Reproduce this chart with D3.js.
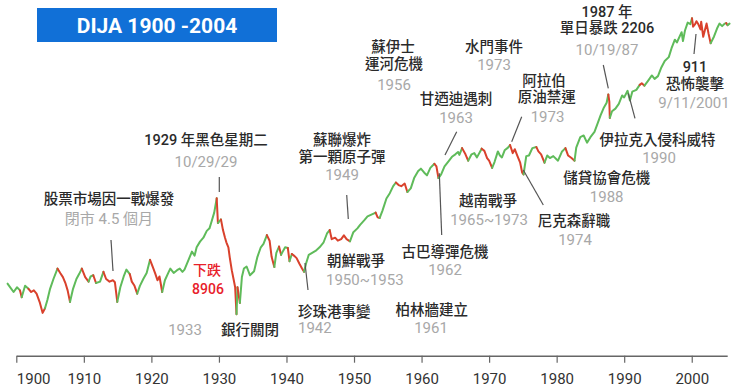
<!DOCTYPE html>
<html><head><meta charset="utf-8">
<script src="https://cdn.jsdelivr.net/npm/d3@7"></script>
<style>
html,body{margin:0;padding:0;background:#fff;}
svg{display:block;}
text{font-family:Roboto,"Noto Sans CJK TC",sans-serif;}
</style></head>
<body><svg id="c" width="740" height="391"></svg>
<script>
// ---------------- DATA ----------------
const title = "DIJA 1900 -2004";
const years = [1898.7,1899.1,1899.6,1900.1,1900.55,1900.8,1901.3,1901.8,1902.2,1902.6,1903.0,1903.5,1903.9,1904.25,1904.6,1905.0,1905.5,1906.1,1906.5,1906.9,1907.3,1907.6,1907.95,1908.4,1908.9,1909.3,1909.7,1910.2,1910.7,1911.0,1911.4,1911.8,1912.4,1912.9,1913.3,1913.8,1914.3,1914.6,1914.95,1915.4,1915.9,1916.3,1916.8,1917.1,1917.5,1917.9,1918.3,1918.8,1919.3,1919.8,1920.3,1920.6,1920.9,1921.2,1921.6,1922.0,1922.5,1922.8,1923.3,1923.8,1924.2,1924.6,1924.9,1925.5,1926.0,1926.4,1926.7,1927.2,1927.7,1928.2,1928.6,1928.9,1929.3,1929.67,1929.85,1930.3,1930.6,1930.9,1931.1,1931.4,1931.6,1931.9,1932.2,1932.4,1932.6,1932.75,1933.1,1933.4,1933.7,1934.1,1934.6,1935.2,1935.7,1936.2,1936.6,1937.1,1937.5,1937.8,1938.2,1938.5,1938.9,1939.2,1939.5,1939.8,1940.2,1940.45,1940.8,1941.1,1941.5,1941.9,1942.3,1942.6,1942.9,1943.3,1943.8,1944.3,1944.9,1945.5,1946.0,1946.4,1946.7,1947.2,1947.6,1948.1,1948.5,1948.9,1949.4,1949.9,1950.5,1950.9,1951.5,1952.0,1952.9,1953.2,1953.5,1953.8,1954.2,1954.8,1955.3,1955.8,1956.2,1956.6,1957.0,1957.5,1957.9,1958.4,1958.9,1959.5,1959.9,1960.4,1960.8,1961.3,1961.9,1962.2,1962.5,1962.9,1963.4,1963.9,1964.5,1965.0,1965.4,1965.6,1966.0,1966.5,1966.9,1967.4,1967.8,1968.2,1968.9,1969.3,1969.7,1970.0,1970.45,1970.8,1971.3,1971.6,1971.9,1972.3,1972.8,1973.1,1973.5,1973.8,1974.2,1974.6,1974.9,1975.1,1975.5,1975.9,1976.4,1977.0,1977.3,1977.7,1978.2,1978.6,1979.0,1979.5,1980.2,1980.8,1981.3,1981.7,1982.2,1982.65,1982.9,1983.5,1984.0,1984.5,1985.0,1985.6,1986.0,1986.5,1987.0,1987.4,1987.65,1987.8,1987.87,1988.2,1988.7,1989.2,1989.7,1990.0,1990.5,1990.85,1991.2,1991.8,1992.3,1992.6,1993.0,1993.5,1994.1,1994.5,1995.0,1995.5,1996.0,1996.6,1997.0,1997.5,1997.8,1998.5,1998.7,1999.0,1999.4,1999.8,2000.04,2000.2,2000.5,2000.7,2001.0,2001.3,2001.4,2001.7,2002.2,2002.5,2002.8,2003.3,2003.8,2004.1,2004.5,2004.9,2005.1,2005.3,2005.6];
const dow = [75,70,64,70,66,58,72,68,64,66,62,52,43,47,55,68,82,100,92,85,75,66,53,68,82,90,100,85,78,86,88,76,78,94,82,78,80,77,53,70,86,98,90,78,72,62,72,82,92,118,100,90,80,86,64,80,92,100,92,97,100,94,98,118,138,128,150,167,180,205,215,244,290,381,238,255,208,180,165,150,124,97,80,70,42,70,52,85,100,104,88,95,125,150,160,189,170,125,103,135,152,130,140,150,148,115,132,128,122,110,100,94,110,130,135,140,150,165,195,208,175,180,170,175,188,175,168,200,215,230,250,270,285,290,265,262,300,380,420,480,515,490,480,505,430,460,560,640,670,620,590,680,735,700,560,600,700,760,840,880,920,870,990,880,780,880,900,830,980,940,820,780,680,760,930,860,830,950,1000,1050,900,970,850,750,620,600,850,860,990,1010,930,880,750,860,820,850,780,930,990,860,820,780,1000,1220,1260,1100,1220,1350,1550,1850,2150,2350,2750,2400,1760,2000,2100,2300,2700,2600,2950,2450,2900,3000,3300,3400,3250,3550,3950,3700,3900,4600,5200,5600,6600,7800,7400,9000,7600,9300,10800,10500,11720,10000,10500,11100,10400,9500,11000,8250,10600,8700,7300,8300,9800,10600,10100,10600,10700,10300,10600];
// periods drawn in red (falling markets)
const redSpans = [[1900.55,1900.8],[1901.8,1904.25],[1906.1,1907.95],[1909.7,1910.7],[1911.4,1911.8],[1912.9,1914.95],[1916.8,1917.9],[1919.8,1921.6],[1929.67,1929.85],[1930.3,1932.6],[1932.75,1933.1],[1937.1,1938.2],[1938.9,1939.2],[1940.2,1940.45],[1940.8,1942.6],[1946.4,1949.4],[1953.2,1953.8],[1956.2,1957.9],[1961.9,1962.5],[1966.0,1966.9],[1968.9,1970.45],[1973.1,1975.1],[1977.0,1978.2],[1981.3,1982.65],[1987.65,1987.87],[1992.3,1993.0],[2000.04,2002.8],[2005.1,2005.3]];
const tickYears = [1900,1910,1920,1930,1940,1950,1960,1970,1980,1990,2000];
// annotation texts: [kind, text] ; kind d=dark, g=gray, r=red
const notes = [
  [["d","股票市場因一戰爆發"],["g","閉市 4.5 個月"]],
  [["d","1929 年黑色星期二"],["g","10/29/29"]],
  [["r","下跌"],["r","8906"]],
  [["g","1933"],["d","銀行關閉"]],
  [["d","蘇聯爆炸"],["d","第一顆原子彈"],["g","1949"]],
  [["d","朝鮮戰爭"],["g","1950~1953"]],
  [["d","珍珠港事變"],["g","1942"]],
  [["d","蘇伊士"],["d","運河危機"],["g","1956"]],
  [["d","水門事件"],["g","1973"]],
  [["d","甘迺迪遇刺"],["g","1963"]],
  [["d","阿拉伯"],["d","原油禁運"],["g","1973"]],
  [["d","1987 年"],["d","單日暴跌 2206"],["g","10/19/87"]],
  [["d","911"],["d","恐怖襲擊"],["g","9/11/2001"]],
  [["d","伊拉克入侵科威特"],["g","1990"]],
  [["d","儲貸協會危機"],["g","1988"]],
  [["d","越南戰爭"],["g","1965~1973"]],
  [["d","尼克森辭職"],["g","1974"]],
  [["d","古巴導彈危機"],["g","1962"]],
  [["d","柏林牆建立"],["g","1961"]]
];

// ---------------- LAYOUT ----------------
const layout = [
  {pos:[[109,199],[109,219]], ptr:[[111,240],[113,271]]},
  {pos:[[206,140],[206,162]], ptr:[[219.3,177],[219.3,192]]},
  {pos:[[207,270],[208,289]]},
  {pos:[[185,330],[250,330]]},
  {pos:[[342,140],[342,157.5],[342,175]], ptr:[[346.7,195],[348.3,219]]},
  {pos:[[327,261,"start"],[326,280,"start"]]},
  {pos:[[298,312,"start"],[298,328,"start"]], ptr:[[305,263],[308,290]]},
  {pos:[[393,47],[394,64],[394,85]]},
  {pos:[[494,47],[494,65]]},
  {pos:[[456,99],[456,118]], ptr:[[456.7,131.7],[445,155]]},
  {pos:[[544,81],[546.7,97.5],[547.5,117]], ptr:[[521.7,116.7],[511.7,141.7]]},
  {pos:[[607,12],[607,28],[607,50]], ptr:[[603.3,65],[608.3,88.3]]},
  {pos:[[695,67],[695,84],[694,102.5]], ptr:[[696,34],[694,54]]},
  {pos:[[657.5,140],[659,157.5]], ptr:[[628.3,93.3],[635,118.3]]},
  {pos:[[606.7,178],[606.7,197]]},
  {pos:[[488,201],[489,220]]},
  {pos:[[574,221],[575,240]], ptr:[[523.3,170],[543.3,205]]},
  {pos:[[445,252.5],[445,270]], ptr:[[439.3,173.3],[441.7,235]]},
  {pos:[[431.7,310],[431,328]]}
];

const GREEN = "#5fbb5a", RED = "#d9412c";
const svg = d3.select("#c");

const x = d3.scaleLinear().domain([1900, 2005.25]).range([16.3, 727.2]);
const y = d3.scaleLog().domain([381, 11723]).range([198.3, 18.3]);

// title
svg.append("rect").attr("x",37).attr("y",8).attr("width",240).attr("height",34).attr("fill","#1170d7");
svg.append("text").attr("x",157).attr("y",26).attr("text-anchor","middle").attr("dominant-baseline","central")
  .attr("fill","#fff").attr("font-size",21).attr("font-weight","bold").text(title);

// line, split into colored runs
const pts = years.map((t,i)=>({t, v:dow[i]}));
const isRed = (a,b)=>{const m=(a+b)/2; return redSpans.some(s=>m>=s[0]&&m<=s[1]);};
const runs = [];
for (let i=0;i<pts.length-1;i++){
  const red = isRed(pts[i].t, pts[i+1].t);
  const last = runs[runs.length-1];
  if (last && last.red===red) last.pts.push(pts[i+1]);
  else runs.push({red, pts:[pts[i], pts[i+1]]});
}
const line = d3.line().x(d=>x(d.t)).y(d=>y(d.v));
svg.append("g").selectAll("path").data(runs).join("path")
  .attr("d", d=>line(d.pts)).attr("fill","none")
  .attr("stroke", d=>d.red?RED:GREEN).attr("stroke-width",2)
  .attr("stroke-linejoin","round").attr("stroke-linecap","round");

// axis
const axis = d3.axisBottom(x).tickValues(tickYears).tickFormat(d3.format("d"))
  .tickSize(7).tickSizeOuter(0).tickPadding(11);
const ag = svg.append("g").attr("transform","translate(0,355.7)").call(axis);
ag.select(".domain").attr("stroke","#666").attr("stroke-width",1.5);
ag.selectAll(".tick line").attr("stroke","#666").attr("stroke-width",1.2);
ag.selectAll(".tick text").attr("fill","#333").attr("font-size",15)
  .attr("font-family","Roboto,sans-serif")
  .attr("text-anchor",(d,i)=>i===0?"start":"middle");

// annotations
const colors = {d:"#2a2a2a", g:"#a8a8a8", r:"#e8202a"};
const ann = svg.append("g");
notes.forEach((n,i)=>{
  const L = layout[i];
  n.forEach((ln,j)=>{
    const p = L.pos[j];
    ann.append("text").attr("x",p[0]).attr("y",p[1])
      .attr("text-anchor",p[2]||"middle").attr("dominant-baseline","central")
      .attr("fill",colors[ln[0]])
      .attr("font-size", ln[0]==="r"?14:(ln[0]==="d"?14.5:15))
      .attr("font-weight", ln[0]==="g"?"normal":"500")
      .text(ln[1]);
  });
  if (L.ptr){
    ann.append("line").attr("x1",L.ptr[0][0]).attr("y1",L.ptr[0][1])
      .attr("x2",L.ptr[1][0]).attr("y2",L.ptr[1][1])
      .attr("stroke","#555").attr("stroke-width",1.2);
  }
});
</script></body></html>
